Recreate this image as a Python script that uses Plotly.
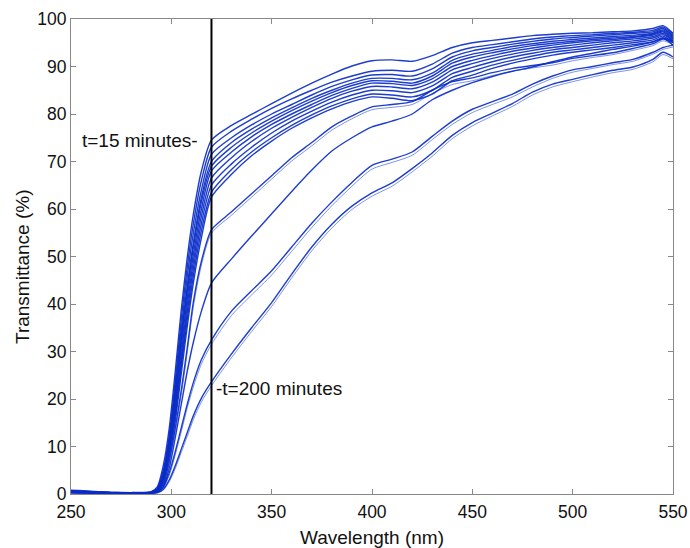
import plotly.graph_objects as go

# ---------------- data ----------------
WAVELENGTH = [250, 260, 270, 280, 290, 293, 296, 299, 302, 305, 308, 311, 315, 320,
              330, 340, 350, 360, 370, 380, 390, 400, 410, 420, 430, 440, 450, 460,
              470, 480, 490, 500, 510, 520, 530, 540, 545, 550]

# dense bundle of early spectra (t = 15 min at the top)
T_B1 = [0.8, 0.6, 0.3, 0.3, 0.5, 1.5, 6, 14, 26, 39, 50, 59, 68, 74.5,
        77.6, 79.9, 82.2, 84.4, 86.5, 88.4, 90.1, 91.2, 91.4, 91.1, 92.3, 94, 95, 95.5,
        96, 96.5, 96.8, 97, 97.1, 97.3, 97.5, 98, 98.6, 97]
T_B2 = [0.7, 0.5, 0.4, 0.3, 0.4, 1.2, 5, 12.5, 24, 37, 48, 57, 66, 73,
        76.4, 78.9, 81.2, 83.2, 85, 86.7, 88, 89, 89.2, 89, 90.5, 92.8, 94, 94.6,
        95.2, 95.8, 96.2, 96.5, 96.7, 97, 97.2, 97.6, 98.3, 96.8]
T_B3 = [0.6, 0.5, 0.3, 0.3, 0.4, 1, 4.5, 11.5, 22.5, 35, 46, 55, 64, 71.5,
        75, 77.7, 80, 82, 84, 85.8, 87.2, 88.2, 88.3, 88, 89.5, 92, 93.3, 94,
        94.7, 95.3, 95.8, 96.1, 96.4, 96.7, 97, 97.3, 98, 96.5]
T_B4 = [0.5, 0.4, 0.3, 0.2, 0.4, 1, 4, 11, 21.5, 33.5, 44, 53, 62.5, 70,
        74, 76.8, 79.2, 81.3, 83.3, 85, 86.5, 87.5, 87.5, 87.2, 88.6, 91.3, 92.6, 93.4,
        94.2, 94.8, 95.3, 95.7, 96, 96.3, 96.6, 97, 97.7, 96.3]
T_B5 = [0.6, 0.4, 0.2, 0.2, 0.3, 0.9, 3.8, 10.5, 20.5, 32.5, 43, 52, 61.5, 69,
        73, 76, 78.5, 80.7, 82.7, 84.5, 86, 87, 86.9, 86.5, 88, 90.7, 92, 92.9,
        93.7, 94.4, 94.9, 95.3, 95.7, 96, 96.3, 96.8, 97.5, 96]
T_B6 = [0.5, 0.4, 0.3, 0.2, 0.3, 0.8, 3.5, 10, 19.5, 31, 41.5, 50.5, 60, 68,
        72, 75.2, 77.8, 80, 82, 83.9, 85.4, 86.5, 86.4, 86, 87.4, 90, 91.3, 92.3,
        93.2, 93.9, 94.5, 95, 95.4, 95.7, 96.1, 96.6, 97.3, 95.8]
T_B7 = [0.5, 0.3, 0.2, 0.2, 0.3, 0.8, 3.2, 9.5, 18.5, 29.5, 40, 49, 58.5, 66.5,
        70.8, 74.2, 77, 79.3, 81.4, 83.3, 84.8, 85.8, 85.7, 85.3, 86.7, 89.3, 90.6, 91.7,
        92.6, 93.4, 94, 94.5, 95, 95.4, 95.8, 96.3, 97, 95.5]
T_B8 = [0.4, 0.3, 0.2, 0.2, 0.3, 0.7, 3, 9, 17.5, 28, 38.5, 47.5, 57, 65,
        69.5, 73, 76, 78.5, 80.6, 82.5, 84, 85, 84.9, 84.5, 85.9, 88.5, 89.8, 91,
        92, 92.8, 93.5, 94, 94.5, 95, 95.4, 96, 96.7, 95.3]
T_B9 = [0.4, 0.3, 0.2, 0.2, 0.2, 0.6, 2.8, 8.5, 16.5, 27, 37, 46, 55.5, 63.5,
        68.3, 72, 75, 77.6, 79.8, 81.7, 83.2, 84.2, 84, 83.6, 85, 87.7, 89, 90.3,
        91.3, 92.2, 93, 93.5, 94, 94.5, 95, 95.6, 96.4, 95]
T_B10 = [0.4, 0.3, 0.2, 0.1, 0.2, 0.5, 2.5, 8, 15.5, 25.5, 35.5, 44.5, 54, 62.5,
         67.3, 71.2, 74.3, 77, 79.2, 81.1, 82.6, 83.6, 83.3, 82.8, 84.2, 87, 88.2, 89.6,
         90.7, 91.6, 92.4, 93, 93.5, 94, 94.6, 95.2, 96, 94.5]

# later spectra (separated curves, t = 200 min at the bottom)
T_L55A = [0.4, 0.3, 0.2, 0.2, 0.3, 0.6, 2, 7, 14, 22, 31, 40.5, 49, 55.6,
          59.4, 63.2, 67, 70.8, 74, 77.3, 79.6, 81.5, 82, 82.6, 85, 86.8, 87.6, 88.7,
          89.6, 90.2, 90.8, 91.7, 92.3, 92.9, 93.8, 94.8, 95.8, 95]
T_L55B = [0.3, 0.3, 0.2, 0.1, 0.2, 0.5, 1.8, 6.5, 13.2, 21, 30, 39.5, 48.2, 54.9,
          58.7, 62.5, 66.3, 70.1, 73.3, 76.6, 79, 80.9, 81.4, 82, 84.3, 86.2, 87, 88.1,
          89, 89.7, 90.3, 91.2, 91.9, 92.5, 93.4, 94.4, 95.4, 94.6]
T_L44 = [0.3, 0.2, 0.2, 0.1, 0.2, 0.5, 1.5, 5.5, 12, 19, 26, 32, 38.5, 44.4,
         49.5, 54.3, 59, 63.7, 68.2, 72.2, 75, 77.3, 78.5, 80, 83, 85, 86.6, 87.9,
         89, 89.9, 91, 92, 92.8, 93.6, 94.3, 95.2, 96, 95.3]
T_L33A = [0.3, 0.2, 0.2, 0.1, 0.2, 0.4, 1.5, 4.5, 9, 14, 19, 23.5, 28.3, 32.4,
          38.5, 42.8, 47, 52, 57, 61.5, 65.6, 69.2, 70.5, 72, 75.3, 78.5, 81, 82.6,
          84.2, 86.3, 88, 89.3, 90, 90.8, 91.5, 93, 94, 94.5]
T_L33B = [0.2, 0.2, 0.1, 0.1, 0.2, 0.3, 1.2, 4, 8.3, 13.2, 18.2, 22.6, 27.4, 31.5,
          37.6, 41.9, 46.1, 51.1, 56.1, 60.7, 64.8, 68.4, 69.8, 71.3, 74.6, 77.8, 80.3, 82,
          83.6, 85.7, 87.5, 88.8, 89.6, 90.4, 91.1, 92.6, 93.6, 94.1]
T_L24A = [0.3, 0.2, 0.2, 0.1, 0.2, 0.3, 1, 3, 6, 9.5, 13, 16.5, 20.2, 23.6,
          29.5, 35, 40.3, 46.3, 52, 56.8, 60.6, 63.4, 65.5, 68.5, 71.8, 75.5, 78.2, 80.2,
          82.2, 84.6, 86.3, 87.3, 88.3, 89.2, 89.9, 91.5, 93, 92]
T_L24B = [0.2, 0.2, 0.1, 0.1, 0.2, 0.2, 0.8, 2.6, 5.4, 8.8, 12.2, 15.7, 19.4, 22.8,
          28.7, 34.2, 39.5, 45.5, 51.2, 56, 59.9, 62.7, 64.8, 67.8, 71.1, 74.8, 77.5, 79.6,
          81.6, 84, 85.7, 86.8, 87.8, 88.7, 89.4, 91, 92.5, 91.6]

MARKER_WAVELENGTH = 320
LABEL_EARLY = "t=15 minutes-"
LABEL_LATE = "-t=200 minutes"
LABEL_EARLY_Y = 74.5
LABEL_LATE_Y = 22.3

X_TICKS = [250, 300, 350, 400, 450, 500, 550]
Y_TICKS = [0, 10, 20, 30, 40, 50, 60, 70, 80, 90, 100]
X_TITLE = "Wavelength (nm)"
Y_TITLE = "Transmittance (%)"

# ---------------- figure ----------------
STRONG = "rgba(10,45,200,0.92)"
PALE = "rgba(40,75,215,0.6)"

main_curves = [T_B1, T_B2, T_B3, T_B4, T_B5, T_B6, T_B7, T_B8, T_B9, T_B10,
               T_L55A, T_L44, T_L33A, T_L24A]
pale_curves = [T_L55B, T_L33B, T_L24B]

fig = go.Figure()
for vals in pale_curves:
    fig.add_trace(go.Scatter(x=WAVELENGTH, y=vals, mode="lines",
                             line=dict(color=PALE, width=1.0, shape="spline", smoothing=0.7),
                             hoverinfo="skip"))
for vals in main_curves:
    fig.add_trace(go.Scatter(x=WAVELENGTH, y=vals, mode="lines",
                             line=dict(color=STRONG, width=1.4, shape="spline", smoothing=0.7),
                             hoverinfo="skip"))

fig.add_shape(type="line", xref="x", yref="y",
              x0=MARKER_WAVELENGTH, x1=MARKER_WAVELENGTH, y0=0, y1=100,
              line=dict(color="black", width=2))

FONT = "Liberation Sans, Arial, Helvetica, sans-serif"
fig.add_annotation(x=MARKER_WAVELENGTH, y=LABEL_EARLY_Y, text=LABEL_EARLY,
                   showarrow=False, xanchor="right", yanchor="middle", xshift=-11,
                   font=dict(family=FONT, size=19, color="#111"))
fig.add_annotation(x=MARKER_WAVELENGTH, y=LABEL_LATE_Y, text=LABEL_LATE,
                   showarrow=False, xanchor="left", yanchor="middle", xshift=3,
                   font=dict(family=FONT, size=19, color="#111"))

# axis titles as paper-positioned annotations
fig.add_annotation(xref="paper", yref="paper", x=0.5, y=-0.0926, text=X_TITLE,
                   showarrow=False, xanchor="center", yanchor="middle",
                   font=dict(family=FONT, size=19, color="#111"))
fig.add_annotation(xref="paper", yref="paper", x=-0.0814, y=0.48, text=Y_TITLE,
                   showarrow=False, xanchor="center", yanchor="middle", textangle=-90,
                   font=dict(family=FONT, size=19, color="#111"))

axis_common = dict(showline=True, linecolor="#888", linewidth=1, mirror="ticks",
                   ticks="inside", ticklen=5, tickcolor="#888", showgrid=False,
                   zeroline=False, automargin=False,
                   tickfont=dict(family=FONT, size=17.5, color="#111"))

fig.update_layout(
    width=690, height=548,
    margin=dict(l=71, r=17, t=19, b=54),
    paper_bgcolor="white", plot_bgcolor="white",
    showlegend=False,
    xaxis=dict(range=[250, 550], tickvals=X_TICKS, ticklabelstandoff=2, **axis_common),
    yaxis=dict(range=[0, 100], tickvals=Y_TICKS, **axis_common),
)

# remove the default 8 px page margin so the figure fills the window exactly
fig.write_html("out.html", config={"displayModeBar": False},
               post_script="document.body.style.margin='0';document.body.style.overflow='hidden';")
